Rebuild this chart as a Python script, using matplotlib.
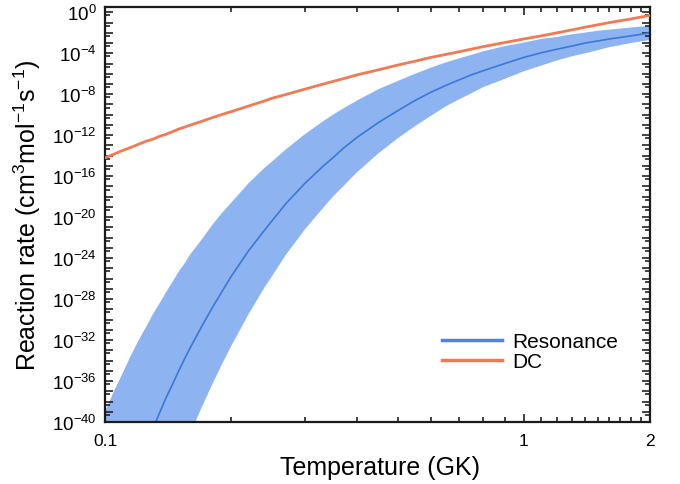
import matplotlib
matplotlib.use("Agg")
import matplotlib.pyplot as plt
from matplotlib.ticker import FixedLocator, NullFormatter, FixedFormatter
from matplotlib.lines import Line2D
import numpy as np

plt.rcParams['font.family'] = ['Liberation Sans', 'DejaVu Sans']
plt.rcParams['mathtext.fontset'] = 'custom'
plt.rcParams['mathtext.rm'] = 'Liberation Sans'

# Temperature grid (GK)
temperature = [0.1, 0.105, 0.11, 0.115, 0.12, 0.125, 0.13, 0.135, 0.14, 0.145, 0.15, 0.155, 0.16,
               0.17, 0.18, 0.19, 0.2, 0.22, 0.24, 0.25, 0.27, 0.3, 0.33, 0.35, 0.37, 0.4, 0.45,
               0.5, 0.55, 0.6, 0.65, 0.7, 0.75, 0.8, 0.9, 1.0, 1.1, 1.2, 1.3, 1.4, 1.5, 1.6,
               1.7, 1.8, 1.9, 2.0]
# log10 of reaction rates
res_central_log = [-53.5, -50.8, -48.4, -46.2, -44.2, -42.4, -40.7, -39.1, -37.6, -36.3, -35.0, -33.8,
                   -32.7, -30.7, -28.9, -27.3, -25.8, -23.3, -21.3, -20.4, -18.7, -16.7, -15.1, -14.2,
                   -13.3, -12.2, -10.75, -9.6, -8.6, -7.8, -7.15, -6.6, -6.1, -5.7, -5.0, -4.4, -3.95,
                   -3.6, -3.3, -3.0, -2.8, -2.6, -2.45, -2.3, -2.15, -2.0]
res_upper_log = [-39.0, -37.0, -35.3, -33.6, -32.1, -30.8, -29.5, -28.4, -27.3, -26.3, -25.3, -24.5,
                 -23.6, -22.2, -20.8, -19.6, -18.6, -16.7, -15.2, -14.6, -13.4, -11.9, -10.7, -10.0,
                 -9.4, -8.6, -7.5, -6.7, -6.0, -5.4, -4.9, -4.5, -4.15, -3.8, -3.3, -2.95, -2.6,
                 -2.4, -2.15, -1.98, -1.8, -1.69, -1.58, -1.48, -1.4, -1.32]
res_lower_log = [-67.0, -63.7, -60.7, -58.0, -55.5, -53.2, -51.1, -49.1, -47.3, -45.6, -44.0, -42.5,
                 -41.1, -38.6, -36.4, -34.4, -32.6, -29.5, -26.9, -25.8, -23.7, -21.2, -19.2, -18.0,
                 -17.0, -15.6, -13.75, -12.3, -11.1, -10.1, -9.2, -8.5, -7.9, -7.3, -6.5, -5.75, -5.2,
                 -4.7, -4.3, -4.0, -3.7, -3.4, -3.2, -3.0, -2.85, -2.7]
dc_log = [-14.2, -13.85, -13.5, -13.2, -12.9, -12.6, -12.4, -12.1, -11.9, -11.65, -11.4, -11.2,
          -11.0, -10.65, -10.3, -9.98, -9.7, -9.15, -8.66, -8.4, -8.03, -7.5, -7.03, -6.75,
          -6.49, -6.1, -5.61, -5.15, -4.77, -4.4, -4.12, -3.85, -3.59, -3.35, -2.95, -2.6, -2.3,
          -2.0, -1.72, -1.45, -1.22, -1.0, -0.82, -0.65, -0.47, -0.3]

x_major = [0.1, 1, 2]
x_major_labels = ["0.1", "1", "2"]
x_minor = [0.2, 0.3, 0.4, 0.5, 0.6, 0.7, 0.8, 0.9, 1.1, 1.2, 1.3, 1.4, 1.5, 1.6, 1.7, 1.8, 1.9]
y_label_exponents = [0, -4, -8, -12, -16, -20, -24, -28, -32, -36, -40]

T = np.array(temperature)
central = 10.0 ** np.array(res_central_log)
upper = 10.0 ** np.array(res_upper_log)
lower = 10.0 ** np.array(res_lower_log)
dc = 10.0 ** np.array(dc_log)

fig = plt.figure(figsize=(6.8, 4.85), dpi=100)
ax = fig.add_axes([105/680, 1 - 423/485, (650-105)/680, (423-8.3)/485])

ax.fill_between(T, lower, upper, color='#8db4f1', linewidth=0, zorder=1)
ax.plot(T, central, color='#3a78d8', lw=1.2, zorder=2)
ax.plot(T, dc, color='#f07a55', lw=2.0, zorder=3)

ax.set_xscale('log')
ax.set_yscale('log')
ax.set_xlim(0.1, 2)
ax.set_ylim(1e-40, 10 ** 0.49)

ax.xaxis.set_major_locator(FixedLocator(x_major))
ax.xaxis.set_major_formatter(FixedFormatter(x_major_labels))
ax.xaxis.set_minor_locator(FixedLocator(x_minor))
ax.xaxis.set_minor_formatter(NullFormatter())

y_major = [10.0 ** k for k in range(-40, 1)]
y_major_labels = []
for k in range(-40, 1):
    if k in y_label_exponents:
        y_major_labels.append(r'$\mathregular{10^{%d}}$' % k)
    else:
        y_major_labels.append('')
ax.yaxis.set_major_locator(FixedLocator(y_major))
ax.yaxis.set_major_formatter(FixedFormatter(y_major_labels))
ax.yaxis.set_minor_locator(FixedLocator([5 * 10.0 ** k for k in range(-41, 0)]))
ax.yaxis.set_minor_formatter(NullFormatter())

ax.tick_params(which='both', direction='in', top=True, right=True, width=1.2, color='#222222')
ax.tick_params(which='major', length=6)
ax.tick_params(which='minor', length=3.5)
ax.tick_params(axis='x', which='major', labelsize=12.5, pad=8)
ax.tick_params(axis='y', which='major', labelsize=13.5, pad=6)
for s in ax.spines.values():
    s.set_linewidth(1.6)
    s.set_color('#1a1a1a')

ax.set_xlabel('Temperature (GK)', fontsize=18)
ax.set_ylabel(r'Reaction rate (cm$\mathregular{^3}$mol$\mathregular{^{-1}}$s$\mathregular{^{-1}}$)', fontsize=18)
ax.xaxis.set_label_coords(0.505, -0.08)
ax.yaxis.set_label_coords(-0.113, 0.5)

handles = [Line2D([], [], color='#4a86e0', lw=2.5), Line2D([], [], color='#f07a55', lw=2.5)]
fig.legend(handles, ['Resonance', 'DC'], loc='center left',
           bbox_to_anchor=(442/680, 1 - 352.5/485), frameon=False, fontsize=15,
           handlelength=2.9, handletextpad=0.45, labelspacing=0.05, borderpad=0, borderaxespad=0)

fig.savefig('out.png', dpi=100)
